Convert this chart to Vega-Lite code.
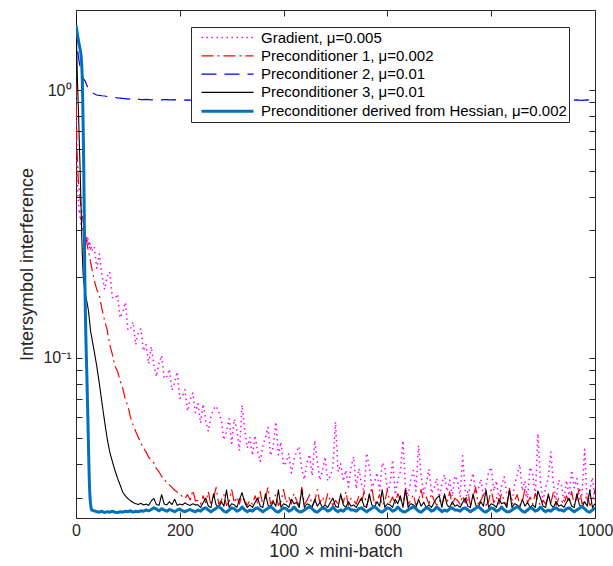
{
"$schema":"https://vega.github.io/schema/vega-lite/v6.json",
"width":519,"height":508,
"autosize":{"type":"none"},
"padding":{"left":76,"top":10,"right":18,"bottom":48},
"background":"white",
"config":{"font":"Liberation Sans","view":{"stroke":null},
 "axis":{"domainColor":"#262626","tickColor":"#262626","labelColor":"#262626","titleColor":"#262626","grid":false,"domainWidth":1,"tickWidth":1,"labelFontSize":16,"titleFontSize":18,"titleFontWeight":"normal","zindex":1},
 "legend":{"orient":"none","legendX":115,"legendY":17,"title":null,"fillColor":"white","strokeColor":"#262626","padding":2,"rowPadding":1.3,"symbolType":"M-3.47,0H3.47","symbolSize":225,"symbolOffset":25.5,"labelFontSize":15,"labelOffset":24.5,"labelColor":"#000000","labelLimit":400,"zindex":2}},
"data":{"values":[
{"x":0,"s1":1.0,"s2":1.05,"s3":1.7,"s4":1.9,"s5":1.75},
{"x":1,"s1":0.62,"s2":0.72,"s3":1.6,"s4":1.5,"s5":1.7},
{"x":2,"s1":0.47,"s2":0.6,"s3":1.5,"s4":1.25,"s5":1.65},
{"x":3,"s1":0.43,"s2":0.53,"s3":1.42,"s4":1.05,"s5":1.6},
{"x":4,"s1":0.39,"s2":0.48,"s3":1.36,"s4":0.92,"s5":1.56},
{"x":5,"s1":0.38,"s2":0.45,"s3":1.32,"s4":0.8,"s5":1.52},
{"x":6,"s1":0.35,"s2":0.43,"s3":1.28,"s4":0.68,"s5":1.48},
{"x":7,"s1":0.355,"s2":0.41,"s3":1.25,"s4":0.58,"s5":1.45},
{"x":8,"s1":0.33,"s2":0.39,"s3":1.22,"s4":0.5,"s5":1.42},
{"x":9,"s1":0.335,"s2":0.375,"s3":1.19,"s4":0.42,"s5":1.38},
{"x":10,"s1":0.315,"s2":0.36,"s3":1.17,"s4":0.35,"s5":1.33},
{"x":11,"s1":0.31,"s2":0.35,"s3":1.15,"s4":0.29,"s5":1.25},
{"x":12,"s1":0.3,"s2":0.34,"s3":1.13,"s4":0.25,"s5":1.12},
{"x":13,"s1":0.305,"s2":0.33,"s3":1.12,"s4":0.22,"s5":0.9},
{"x":14,"s1":0.29,"s2":0.32,"s3":1.1,"s4":0.2,"s5":0.69},
{"x":15,"s1":0.298,"s2":0.315,"s3":1.1,"s4":0.192,"s5":0.5},
{"x":16,"s1":0.285,"s2":0.31,"s3":1.09,"s4":0.185,"s5":0.33},
{"x":17,"s1":0.292,"s2":0.305,"s3":1.085,"s4":0.18,"s5":0.2},
{"x":18,"s1":0.28,"s2":0.29,"s3":1.075,"s4":0.175,"s5":0.15},
{"x":19,"s1":0.286,"s2":0.282,"s3":1.065,"s4":0.17,"s5":0.12},
{"x":20,"s1":0.275,"s2":0.275,"s3":1.05,"s4":0.165,"s5":0.1},
{"x":21,"s1":0.283,"s2":0.268,"s3":1.04,"s4":0.162,"s5":0.085},
{"x":22,"s1":0.27,"s2":0.26,"s3":1.03,"s4":0.158,"s5":0.07},
{"x":23,"s1":0.278,"s2":0.255,"s3":1.022,"s4":0.154,"s5":0.058},
{"x":24,"s1":0.265,"s2":0.25,"s3":1.015,"s4":0.15,"s5":0.047},
{"x":25,"s1":0.272,"s2":0.245,"s3":1.008,"s4":0.144,"s5":0.039},
{"x":26,"s1":0.258,"s2":0.24,"s3":1.0,"s4":0.138,"s5":0.033},
{"x":27,"s1":0.268,"s2":0.234,"s3":0.995,"s4":0.132,"s5":0.03},
{"x":28,"s1":0.255,"s2":0.228,"s3":0.99,"s4":0.126,"s5":0.0285},
{"x":29,"s1":0.262,"s2":0.223,"s3":0.985,"s4":0.123,"s5":0.0275},
{"x":30,"s1":0.25,"s2":0.218,"s3":0.98,"s4":0.12,"s5":0.027},
{"x":35,"s1":0.26,"s2":0.195,"s3":0.968,"s4":0.106,"s5":0.0268},
{"x":40,"s1":0.216,"s2":0.18,"s3":0.958,"s4":0.093,"s5":0.0266},
{"x":45,"s1":0.244,"s2":0.171,"s3":0.955,"s4":0.08,"s5":0.0265},
{"x":50,"s1":0.204,"s2":0.152,"s3":0.952,"s4":0.068,"s5":0.0267},
{"x":55,"s1":0.18,"s2":0.138,"s3":0.95,"s4":0.058,"s5":0.0264},
{"x":60,"s1":0.201,"s2":0.127,"s3":0.946,"s4":0.05,"s5":0.0266},
{"x":65,"s1":0.209,"s2":0.112,"s3":0.944,"s4":0.0445,"s5":0.0265},
{"x":70,"s1":0.168,"s2":0.103,"s3":0.94,"s4":0.041,"s5":0.0267},
{"x":75,"s1":0.166,"s2":0.093,"s3":0.938,"s4":0.038,"s5":0.0265},
{"x":80,"s1":0.173,"s2":0.089,"s3":0.935,"s4":0.0355,"s5":0.0264},
{"x":85,"s1":0.141,"s2":0.082,"s3":0.933,"s4":0.0335,"s5":0.0266},
{"x":90,"s1":0.148,"s2":0.077,"s3":0.93,"s4":0.0315,"s5":0.0265},
{"x":95,"s1":0.161,"s2":0.07,"s3":0.928,"s4":0.0305,"s5":0.0267},
{"x":100,"s1":0.127,"s2":0.066,"s3":0.925,"s4":0.0298,"s5":0.0266},
{"x":105,"s1":0.128,"s2":0.06,"s3":0.926,"s4":0.0292,"s5":0.0268},
{"x":110,"s1":0.136,"s2":0.056,"s3":0.923,"s4":0.0288,"s5":0.0265},
{"x":115,"s1":0.112,"s2":0.053,"s3":0.922,"s4":0.0285,"s5":0.0267},
{"x":120,"s1":0.124,"s2":0.0505,"s3":0.924,"s4":0.0283,"s5":0.0266},
{"x":125,"s1":0.128,"s2":0.048,"s3":0.921,"s4":0.0286,"s5":0.0268},
{"x":130,"s1":0.106,"s2":0.046,"s3":0.92,"s4":0.0282,"s5":0.0267},
{"x":135,"s1":0.112,"s2":0.0445,"s3":0.922,"s4":0.0284,"s5":0.027},
{"x":140,"s1":0.095,"s2":0.0425,"s3":0.921,"s4":0.0281,"s5":0.0268},
{"x":145,"s1":0.11,"s2":0.0415,"s3":0.919,"s4":0.0292,"s5":0.0271},
{"x":150,"s1":0.094,"s2":0.0405,"s3":0.92,"s4":0.0298,"s5":0.0275},
{"x":155,"s1":0.085,"s2":0.0385,"s3":0.922,"s4":0.0283,"s5":0.0272},
{"x":160,"s1":0.0957,"s2":0.0375,"s3":0.92,"s4":0.0281,"s5":0.0268},
{"x":165,"s1":0.102,"s2":0.036,"s3":0.918,"s4":0.0308,"s5":0.0273},
{"x":170,"s1":0.0836,"s2":0.0352,"s3":0.92,"s4":0.0284,"s5":0.027},
{"x":175,"s1":0.0851,"s2":0.034,"s3":0.921,"s4":0.0282,"s5":0.0267},
{"x":180,"s1":0.0907,"s2":0.0335,"s3":0.918,"s4":0.029,"s5":0.0271},
{"x":185,"s1":0.0758,"s2":0.0328,"s3":0.919,"s4":0.0283,"s5":0.0269},
{"x":190,"s1":0.0806,"s2":0.032,"s3":0.92,"s4":0.0296,"s5":0.0266},
{"x":195,"s1":0.0886,"s2":0.0315,"s3":0.917,"s4":0.0281,"s5":0.027},
{"x":200,"s1":0.0705,"s2":0.031,"s3":0.918,"s4":0.0284,"s5":0.0272},
{"x":205,"s1":0.0715,"s2":0.0303,"s3":0.919,"s4":0.0282,"s5":0.0268},
{"x":210,"s1":0.076,"s2":0.0298,"s3":0.917,"s4":0.0287,"s5":0.0266},
{"x":215,"s1":0.0632,"s2":0.0308,"s3":0.918,"s4":0.0283,"s5":0.0269},
{"x":220,"s1":0.07,"s2":0.0294,"s3":0.916,"s4":0.0281,"s5":0.0271},
{"x":225,"s1":0.0738,"s2":0.032,"s3":0.917,"s4":0.0285,"s5":0.0268},
{"x":230,"s1":0.0624,"s2":0.0292,"s3":0.918,"s4":0.0282,"s5":0.0266},
{"x":235,"s1":0.0673,"s2":0.0293,"s3":0.916,"s4":0.0282,"s5":0.027},
{"x":240,"s1":0.057,"s2":0.0284,"s3":0.917,"s4":0.0276,"s5":0.0267},
{"x":245,"s1":0.0671,"s2":0.0305,"s3":0.918,"s4":0.0288,"s5":0.0273},
{"x":250,"s1":0.0582,"s2":0.0287,"s3":0.916,"s4":0.0299,"s5":0.0275},
{"x":255,"s1":0.0531,"s2":0.0316,"s3":0.915,"s4":0.0279,"s5":0.027},
{"x":260,"s1":0.0603,"s2":0.0281,"s3":0.917,"s4":0.0276,"s5":0.0266},
{"x":265,"s1":0.0644,"s2":0.0299,"s3":0.918,"s4":0.031,"s5":0.027},
{"x":270,"s1":0.066,"s2":0.0328,"s3":0.916,"s4":0.0282,"s5":0.0274},
{"x":275,"s1":0.063,"s2":0.0284,"s3":0.915,"s4":0.0276,"s5":0.0278},
{"x":280,"s1":0.0583,"s2":0.0293,"s3":0.917,"s4":0.029,"s5":0.0273},
{"x":285,"s1":0.0493,"s2":0.0308,"s3":0.918,"s4":0.0279,"s5":0.0267},
{"x":290,"s1":0.053,"s2":0.0281,"s3":0.916,"s4":0.0321,"s5":0.0265},
{"x":295,"s1":0.0592,"s2":0.029,"s3":0.915,"s4":0.0276,"s5":0.027},
{"x":300,"s1":0.0479,"s2":0.0322,"s3":0.917,"s4":0.0285,"s5":0.0275},
{"x":305,"s1":0.059,"s2":0.0287,"s3":0.916,"s4":0.0282,"s5":0.0273},
{"x":310,"s1":0.0535,"s2":0.0302,"s3":0.915,"s4":0.0276,"s5":0.0267},
{"x":315,"s1":0.045,"s2":0.0284,"s3":0.917,"s4":0.0296,"s5":0.027},
{"x":320,"s1":0.0665,"s2":0.0311,"s3":0.918,"s4":0.0313,"s5":0.0277},
{"x":325,"s1":0.0538,"s2":0.0293,"s3":0.916,"s4":0.0288,"s5":0.027},
{"x":330,"s1":0.0461,"s2":0.0281,"s3":0.915,"s4":0.0276,"s5":0.0266},
{"x":335,"s1":0.0504,"s2":0.0293,"s3":0.916,"s4":0.0282,"s5":0.027},
{"x":340,"s1":0.0432,"s2":0.0284,"s3":0.917,"s4":0.0276,"s5":0.0267},
{"x":345,"s1":0.0512,"s2":0.0305,"s3":0.918,"s4":0.0288,"s5":0.0273},
{"x":350,"s1":0.0446,"s2":0.0287,"s3":0.916,"s4":0.0299,"s5":0.0275},
{"x":355,"s1":0.041,"s2":0.0316,"s3":0.915,"s4":0.0279,"s5":0.027},
{"x":360,"s1":0.0468,"s2":0.0281,"s3":0.917,"s4":0.0276,"s5":0.0266},
{"x":365,"s1":0.0503,"s2":0.0299,"s3":0.918,"s4":0.031,"s5":0.027},
{"x":370,"s1":0.055,"s2":0.0328,"s3":0.916,"s4":0.0282,"s5":0.0274},
{"x":375,"s1":0.0431,"s2":0.0284,"s3":0.915,"s4":0.0276,"s5":0.0278},
{"x":380,"s1":0.0464,"s2":0.0293,"s3":0.917,"s4":0.029,"s5":0.0273},
{"x":385,"s1":0.0576,"s2":0.0308,"s3":0.918,"s4":0.0279,"s5":0.0267},
{"x":390,"s1":0.0434,"s2":0.0281,"s3":0.916,"s4":0.0321,"s5":0.0265},
{"x":395,"s1":0.0485,"s2":0.029,"s3":0.915,"s4":0.0276,"s5":0.027},
{"x":400,"s1":0.0395,"s2":0.0322,"s3":0.917,"s4":0.0285,"s5":0.0275},
{"x":405,"s1":0.0407,"s2":0.0287,"s3":0.916,"s4":0.0282,"s5":0.0273},
{"x":410,"s1":0.0439,"s2":0.0302,"s3":0.915,"s4":0.0276,"s5":0.0267},
{"x":415,"s1":0.0371,"s2":0.0284,"s3":0.917,"s4":0.0296,"s5":0.027},
{"x":420,"s1":0.0417,"s2":0.0311,"s3":0.918,"s4":0.0285,"s5":0.0277},
{"x":425,"s1":0.0446,"s2":0.0293,"s3":0.916,"s4":0.0288,"s5":0.027},
{"x":430,"s1":0.0466,"s2":0.0281,"s3":0.915,"s4":0.0276,"s5":0.0266},
{"x":435,"s1":0.0383,"s2":0.0328,"s3":0.916,"s4":0.0321,"s5":0.0266},
{"x":440,"s1":0.0351,"s2":0.0284,"s3":0.917,"s4":0.0276,"s5":0.027},
{"x":445,"s1":0.0404,"s2":0.0293,"s3":0.918,"s4":0.0285,"s5":0.0274},
{"x":450,"s1":0.0435,"s2":0.0308,"s3":0.916,"s4":0.0282,"s5":0.0278},
{"x":455,"s1":0.0363,"s2":0.0281,"s3":0.915,"s4":0.0276,"s5":0.0273},
{"x":460,"s1":0.049,"s2":0.029,"s3":0.917,"s4":0.0296,"s5":0.0267},
{"x":465,"s1":0.0408,"s2":0.0322,"s3":0.918,"s4":0.0279,"s5":0.0265},
{"x":470,"s1":0.0349,"s2":0.0287,"s3":0.916,"s4":0.0288,"s5":0.027},
{"x":475,"s1":0.038,"s2":0.0302,"s3":0.915,"s4":0.0276,"s5":0.0275},
{"x":480,"s1":0.0426,"s2":0.0284,"s3":0.917,"s4":0.0282,"s5":0.0273},
{"x":485,"s1":0.0347,"s2":0.0311,"s3":0.916,"s4":0.0276,"s5":0.0267},
{"x":490,"s1":0.0361,"s2":0.0293,"s3":0.915,"s4":0.0288,"s5":0.027},
{"x":495,"s1":0.0392,"s2":0.0281,"s3":0.917,"s4":0.0299,"s5":0.0277},
{"x":500,"s1":0.0576,"s2":0.0293,"s3":0.918,"s4":0.0279,"s5":0.027},
{"x":505,"s1":0.0375,"s2":0.0284,"s3":0.916,"s4":0.0276,"s5":0.0266},
{"x":510,"s1":0.0402,"s2":0.0305,"s3":0.915,"s4":0.031,"s5":0.027},
{"x":515,"s1":0.0346,"s2":0.0287,"s3":0.917,"s4":0.0282,"s5":0.0267},
{"x":520,"s1":0.038,"s2":0.0316,"s3":0.918,"s4":0.0276,"s5":0.0273},
{"x":525,"s1":0.0329,"s2":0.0281,"s3":0.916,"s4":0.029,"s5":0.0275},
{"x":530,"s1":0.0392,"s2":0.0299,"s3":0.915,"s4":0.0279,"s5":0.027},
{"x":535,"s1":0.0427,"s2":0.0293,"s3":0.916,"s4":0.0282,"s5":0.027},
{"x":540,"s1":0.0324,"s2":0.0284,"s3":0.917,"s4":0.0276,"s5":0.0267},
{"x":545,"s1":0.0386,"s2":0.0305,"s3":0.918,"s4":0.0288,"s5":0.0273},
{"x":550,"s1":0.034,"s2":0.0287,"s3":0.916,"s4":0.0299,"s5":0.0275},
{"x":555,"s1":0.0314,"s2":0.0316,"s3":0.915,"s4":0.0279,"s5":0.027},
{"x":560,"s1":0.044,"s2":0.0281,"s3":0.917,"s4":0.0276,"s5":0.0266},
{"x":565,"s1":0.0392,"s2":0.0299,"s3":0.918,"s4":0.031,"s5":0.027},
{"x":570,"s1":0.0329,"s2":0.0328,"s3":0.916,"s4":0.0282,"s5":0.0274},
{"x":575,"s1":0.0342,"s2":0.0284,"s3":0.915,"s4":0.0276,"s5":0.0278},
{"x":580,"s1":0.0372,"s2":0.0293,"s3":0.917,"s4":0.029,"s5":0.0273},
{"x":585,"s1":0.0319,"s2":0.0308,"s3":0.918,"s4":0.0279,"s5":0.0267},
{"x":590,"s1":0.0405,"s2":0.0281,"s3":0.916,"s4":0.0321,"s5":0.0265},
{"x":595,"s1":0.0392,"s2":0.029,"s3":0.915,"s4":0.0276,"s5":0.027},
{"x":600,"s1":0.032,"s2":0.0322,"s3":0.917,"s4":0.0285,"s5":0.0275},
{"x":605,"s1":0.0333,"s2":0.0287,"s3":0.916,"s4":0.0282,"s5":0.0273},
{"x":610,"s1":0.0415,"s2":0.0302,"s3":0.915,"s4":0.0276,"s5":0.0267},
{"x":615,"s1":0.0308,"s2":0.0284,"s3":0.917,"s4":0.0296,"s5":0.027},
{"x":620,"s1":0.0349,"s2":0.0311,"s3":0.918,"s4":0.0285,"s5":0.0277},
{"x":625,"s1":0.0375,"s2":0.0293,"s3":0.916,"s4":0.0305,"s5":0.027},
{"x":630,"s1":0.049,"s2":0.0281,"s3":0.915,"s4":0.0276,"s5":0.0266},
{"x":635,"s1":0.0327,"s2":0.0328,"s3":0.916,"s4":0.0321,"s5":0.0266},
{"x":640,"s1":0.0303,"s2":0.0284,"s3":0.917,"s4":0.0276,"s5":0.027},
{"x":645,"s1":0.0349,"s2":0.0293,"s3":0.918,"s4":0.0285,"s5":0.0274},
{"x":650,"s1":0.0379,"s2":0.0308,"s3":0.916,"s4":0.0282,"s5":0.0278},
{"x":655,"s1":0.0318,"s2":0.0281,"s3":0.915,"s4":0.0276,"s5":0.0273},
{"x":660,"s1":0.047,"s2":0.029,"s3":0.917,"s4":0.0296,"s5":0.0267},
{"x":665,"s1":0.0361,"s2":0.0322,"s3":0.918,"s4":0.0279,"s5":0.0265},
{"x":670,"s1":0.0311,"s2":0.0287,"s3":0.916,"s4":0.0288,"s5":0.027},
{"x":675,"s1":0.034,"s2":0.0302,"s3":0.915,"s4":0.0276,"s5":0.0275},
{"x":680,"s1":0.0383,"s2":0.0284,"s3":0.917,"s4":0.0282,"s5":0.0273},
{"x":685,"s1":0.0312,"s2":0.0311,"s3":0.916,"s4":0.0276,"s5":0.0267},
{"x":690,"s1":0.0325,"s2":0.0293,"s3":0.915,"s4":0.0288,"s5":0.027},
{"x":695,"s1":0.0354,"s2":0.0281,"s3":0.917,"s4":0.0299,"s5":0.0277},
{"x":700,"s1":0.0301,"s2":0.0293,"s3":0.918,"s4":0.0305,"s5":0.0272},
{"x":705,"s1":0.034,"s2":0.0284,"s3":0.916,"s4":0.0276,"s5":0.0266},
{"x":710,"s1":0.0366,"s2":0.0305,"s3":0.915,"s4":0.031,"s5":0.027},
{"x":715,"s1":0.0317,"s2":0.0287,"s3":0.917,"s4":0.0282,"s5":0.0267},
{"x":720,"s1":0.0349,"s2":0.0316,"s3":0.918,"s4":0.0276,"s5":0.0273},
{"x":725,"s1":0.0303,"s2":0.0281,"s3":0.916,"s4":0.029,"s5":0.0275},
{"x":730,"s1":0.0362,"s2":0.0299,"s3":0.915,"s4":0.0279,"s5":0.027},
{"x":735,"s1":0.0348,"s2":0.0293,"s3":0.916,"s4":0.0282,"s5":0.027},
{"x":740,"s1":0.0302,"s2":0.0284,"s3":0.917,"s4":0.0276,"s5":0.0267},
{"x":745,"s1":0.043,"s2":0.0305,"s3":0.918,"s4":0.0288,"s5":0.0273},
{"x":750,"s1":0.0318,"s2":0.0287,"s3":0.916,"s4":0.0299,"s5":0.0275},
{"x":755,"s1":0.0294,"s2":0.0316,"s3":0.915,"s4":0.0279,"s5":0.027},
{"x":760,"s1":0.034,"s2":0.0281,"s3":0.917,"s4":0.0276,"s5":0.0266},
{"x":765,"s1":0.037,"s2":0.0299,"s3":0.918,"s4":0.031,"s5":0.027},
{"x":770,"s1":0.031,"s2":0.0328,"s3":0.916,"s4":0.0282,"s5":0.0274},
{"x":775,"s1":0.0323,"s2":0.0284,"s3":0.915,"s4":0.0276,"s5":0.0278},
{"x":780,"s1":0.0352,"s2":0.0293,"s3":0.917,"s4":0.029,"s5":0.0273},
{"x":785,"s1":0.0302,"s2":0.0308,"s3":0.918,"s4":0.0279,"s5":0.0267},
{"x":790,"s1":0.0332,"s2":0.0281,"s3":0.916,"s4":0.0321,"s5":0.0265},
{"x":795,"s1":0.0374,"s2":0.029,"s3":0.915,"s4":0.0276,"s5":0.027},
{"x":800,"s1":0.039,"s2":0.0322,"s3":0.917,"s4":0.0285,"s5":0.0275},
{"x":805,"s1":0.0318,"s2":0.0287,"s3":0.916,"s4":0.0282,"s5":0.0273},
{"x":810,"s1":0.0347,"s2":0.0302,"s3":0.915,"s4":0.0276,"s5":0.0267},
{"x":815,"s1":0.0295,"s2":0.0284,"s3":0.917,"s4":0.0296,"s5":0.027},
{"x":820,"s1":0.0333,"s2":0.0311,"s3":0.918,"s4":0.0285,"s5":0.0277},
{"x":825,"s1":0.0359,"s2":0.0293,"s3":0.916,"s4":0.0288,"s5":0.027},
{"x":830,"s1":0.031,"s2":0.0281,"s3":0.915,"s4":0.0276,"s5":0.0266},
{"x":835,"s1":0.0312,"s2":0.0328,"s3":0.916,"s4":0.0321,"s5":0.0266},
{"x":840,"s1":0.029,"s2":0.0284,"s3":0.917,"s4":0.0276,"s5":0.027},
{"x":845,"s1":0.0335,"s2":0.0293,"s3":0.918,"s4":0.0285,"s5":0.0274},
{"x":850,"s1":0.0364,"s2":0.0308,"s3":0.916,"s4":0.0282,"s5":0.0278},
{"x":855,"s1":0.04,"s2":0.0281,"s3":0.915,"s4":0.0276,"s5":0.0273},
{"x":860,"s1":0.0318,"s2":0.029,"s3":0.917,"s4":0.0296,"s5":0.0267},
{"x":865,"s1":0.0347,"s2":0.0322,"s3":0.918,"s4":0.0279,"s5":0.0265},
{"x":870,"s1":0.0299,"s2":0.0287,"s3":0.916,"s4":0.0288,"s5":0.027},
{"x":875,"s1":0.039,"s2":0.0302,"s3":0.915,"s4":0.0276,"s5":0.0275},
{"x":880,"s1":0.0368,"s2":0.0284,"s3":0.917,"s4":0.0282,"s5":0.0273},
{"x":885,"s1":0.0301,"s2":0.0311,"s3":0.916,"s4":0.0276,"s5":0.0267},
{"x":890,"s1":0.052,"s2":0.0293,"s3":0.915,"s4":0.0318,"s5":0.027},
{"x":895,"s1":0.0342,"s2":0.0281,"s3":0.917,"s4":0.0299,"s5":0.0277},
{"x":900,"s1":0.0291,"s2":0.0293,"s3":0.918,"s4":0.0279,"s5":0.027},
{"x":905,"s1":0.0329,"s2":0.0284,"s3":0.916,"s4":0.0276,"s5":0.0266},
{"x":910,"s1":0.0354,"s2":0.0305,"s3":0.915,"s4":0.031,"s5":0.027},
{"x":915,"s1":0.0445,"s2":0.0287,"s3":0.917,"s4":0.0282,"s5":0.0267},
{"x":920,"s1":0.0337,"s2":0.0316,"s3":0.918,"s4":0.0276,"s5":0.0273},
{"x":925,"s1":0.0293,"s2":0.0281,"s3":0.916,"s4":0.029,"s5":0.0275},
{"x":930,"s1":0.0349,"s2":0.0299,"s3":0.915,"s4":0.0279,"s5":0.027},
{"x":935,"s1":0.0336,"s2":0.0293,"s3":0.916,"s4":0.0282,"s5":0.027},
{"x":940,"s1":0.0291,"s2":0.0284,"s3":0.917,"s4":0.0276,"s5":0.0267},
{"x":945,"s1":0.0348,"s2":0.0305,"s3":0.918,"s4":0.0288,"s5":0.0273},
{"x":950,"s1":0.0306,"s2":0.0287,"s3":0.916,"s4":0.0299,"s5":0.0275},
{"x":955,"s1":0.038,"s2":0.0316,"s3":0.915,"s4":0.0279,"s5":0.027},
{"x":960,"s1":0.0327,"s2":0.0281,"s3":0.917,"s4":0.0276,"s5":0.0266},
{"x":965,"s1":0.0354,"s2":0.0299,"s3":0.918,"s4":0.031,"s5":0.027},
{"x":970,"s1":0.0297,"s2":0.0328,"s3":0.916,"s4":0.0282,"s5":0.0274},
{"x":975,"s1":0.0309,"s2":0.0284,"s3":0.915,"s4":0.0276,"s5":0.0278},
{"x":980,"s1":0.0455,"s2":0.0293,"s3":0.917,"s4":0.029,"s5":0.0273},
{"x":985,"s1":0.0289,"s2":0.0308,"s3":0.918,"s4":0.0279,"s5":0.0267},
{"x":990,"s1":0.0317,"s2":0.0281,"s3":0.916,"s4":0.0321,"s5":0.0265},
{"x":995,"s1":0.0357,"s2":0.029,"s3":0.915,"s4":0.0276,"s5":0.027},
{"x":1000,"s1":0.0291,"s2":0.0322,"s3":0.917,"s4":0.0285,"s5":0.0275}
]},
"transform":[{"fold":["s1","s2","s3","s4","s5"],"as":["series","value"]}],
"layer":[
{"mark":{"type":"line","clip":true,"strokeJoin":"round"},
 "encoding":{
  "x":{"field":"x","type":"quantitative","scale":{"domain":[0,1000],"nice":false,"zero":false},
   "axis":{"orient":"bottom","values":[0,200,400,600,800,1000],"format":"d","labelFlush":false,"labelOverlap":false,"tickSize":-6,"labelPadding":10,"title":"100 × mini-batch","titlePadding":4}},
  "y":{"field":"value","type":"quantitative","scale":{"type":"log","domain":[0.0252,1.99],"nice":false},
   "axis":{"orient":"left","values":[0.03,0.04,0.05,0.06,0.07,0.08,0.09,0.1,0.2,0.3,0.4,0.5,0.6,0.7,0.8,0.9,1],"tickSize":-6,"labelPadding":11,"labelExpr":"datum.value == 1 ? '10⁰' : (datum.value == 0.1 ? '10⁻¹' : '')","title":"Intersymbol interference","titlePadding":6}},
  "color":{"field":"series","type":"nominal","scale":{"domain":["s1","s2","s3","s4","s5"],"range":["#FF00FF","#FF0000","#0000FF","#000000","#0072BD"]},
   "legend":{"labelExpr":"datum.label == 's1' ? 'Gradient, μ=0.005' : datum.label == 's2' ? 'Preconditioner 1, μ=0.002' : datum.label == 's3' ? 'Preconditioner 2, μ=0.01' : datum.label == 's4' ? 'Preconditioner 3, μ=0.01' : 'Preconditioner derived from Hessian, μ=0.002'"}},
  "strokeDash":{"field":"series","type":"nominal","scale":{"domain":["s1","s2","s3","s4","s5"],"range":[[1.5,3.5],[12,4,2,4],[15,8],[1,0],[1,0]]},
   "legend":{"labelExpr":"datum.label == 's1' ? 'Gradient, μ=0.005' : datum.label == 's2' ? 'Preconditioner 1, μ=0.002' : datum.label == 's3' ? 'Preconditioner 2, μ=0.01' : datum.label == 's4' ? 'Preconditioner 3, μ=0.01' : 'Preconditioner derived from Hessian, μ=0.002'"}},
  "strokeWidth":{"field":"series","type":"nominal","scale":{"type":"ordinal","domain":["s1","s2","s3","s4","s5"],"range":[1.5,1.2,1.2,1.1,3]},
   "legend":{"labelExpr":"datum.label == 's1' ? 'Gradient, μ=0.005' : datum.label == 's2' ? 'Preconditioner 1, μ=0.002' : datum.label == 's3' ? 'Preconditioner 2, μ=0.01' : datum.label == 's4' ? 'Preconditioner 3, μ=0.01' : 'Preconditioner derived from Hessian, μ=0.002'"}}
 }},
{"mark":{"type":"line","opacity":0},
 "encoding":{
  "x":{"field":"x","type":"quantitative","axis":{"orient":"top","values":[0,200,400,600,800,1000],"tickSize":-6,"labels":false,"title":null}},
  "y":{"field":"value","type":"quantitative","axis":{"orient":"right","values":[0.03,0.04,0.05,0.06,0.07,0.08,0.09,0.1,0.2,0.3,0.4,0.5,0.6,0.7,0.8,0.9,1],"tickSize":-6,"labels":false,"title":null}}
 }}
],
"resolve":{"axis":{"x":"independent","y":"independent"}}
}
